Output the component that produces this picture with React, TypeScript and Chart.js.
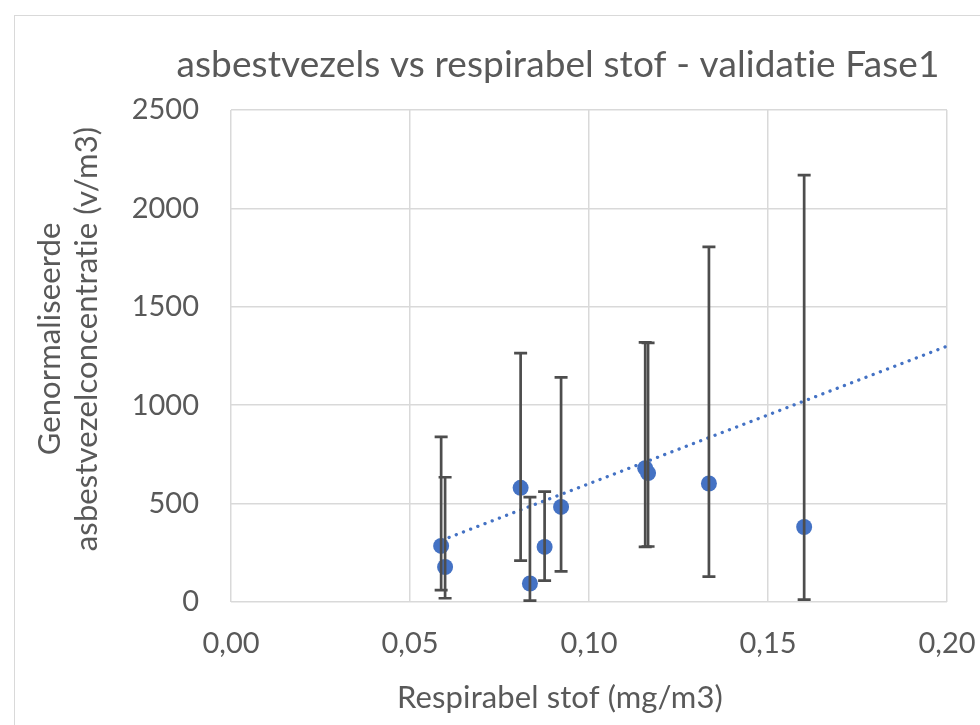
import React, { useEffect, useRef } from "react";
import { Chart, registerables } from "chart.js";

Chart.register(...registerables);

const xValues = [0.0587, 0.0598, 0.0809, 0.0835, 0.0876, 0.0922, 0.1157, 0.1165, 0.1335, 0.1601];
const yValues = [285, 178, 580, 94, 280, 483, 680, 655, 602, 381];
const errLow = [60, 19, 210, 7, 109, 156, 280, 282, 129, 12];
const errHigh = [839, 634, 1265, 533, 561, 1141, 1319, 1317, 1804, 2169];
const trendX = [0.0589, 0.2];
const trendY = [314, 1300];
const xTicks = [0, 0.05, 0.1, 0.15, 0.2];
const yTicks = [0, 500, 1000, 1500, 2000, 2500];

const TITLE = "asbestvezels vs respirabel stof - validatie Fase1";
const X_TITLE = "Respirabel stof (mg/m3)";
const Y_TITLE = ["Genormaliseerde", "asbestvezelconcentratie (v/m3)"];

const FONT = "Lato, 'Noto Sans', sans-serif";
const TEXT = "#595959";

export default function App() {
  const ref = useRef<HTMLCanvasElement | null>(null);

  useEffect(() => {
    const canvas = ref.current!;
    const extras = {
      id: "extras",
      afterDatasetsDraw(chart: any) {
        const { ctx, scales } = chart;
        ctx.save();
        ctx.strokeStyle = "#4d4d4d";
        ctx.lineWidth = 2.7;
        for (let i = 0; i < xValues.length; i++) {
          const px = scales.x.getPixelForValue(xValues[i]);
          const lo = scales.y.getPixelForValue(errLow[i]);
          const hi = scales.y.getPixelForValue(errHigh[i]);
          ctx.beginPath();
          ctx.moveTo(px, lo);
          ctx.lineTo(px, hi);
          ctx.moveTo(px - 6.5, lo);
          ctx.lineTo(px + 6.5, lo);
          ctx.moveTo(px - 6.5, hi);
          ctx.lineTo(px + 6.5, hi);
          ctx.stroke();
        }
        ctx.restore();
      },
      afterDraw(chart: any) {
        const { ctx } = chart;
        ctx.save();
        ctx.fillStyle = TEXT;
        ctx.textAlign = "center";
        ctx.textBaseline = "alphabetic";
        try {
          (ctx as any).letterSpacing = "0.1px";
        } catch (e) {}
        ctx.font = `37px ${FONT}`;
        ctx.fillText(TITLE, 558, 77);
        ctx.font = `31px ${FONT}`;
        ctx.fillText(X_TITLE, 560, 708);
        ctx.save();
        ctx.translate(60, 339);
        ctx.rotate(-Math.PI / 2);
        ctx.fillText(Y_TITLE[0], 0, 0);
        ctx.restore();
        ctx.save();
        ctx.translate(97, 339);
        ctx.rotate(-Math.PI / 2);
        ctx.fillText(Y_TITLE[1], 0, 0);
        ctx.restore();
        ctx.restore();
      },
    };

    const chart = new Chart(canvas, {
      type: "scatter",
      data: {
        datasets: [
          {
            label: "Trend",
            type: "line",
            data: trendX.map((x, i) => ({ x, y: trendY[i] })),
            borderColor: "#4472C4",
            borderWidth: 3.3,
            borderDash: [0.1, 7.6],
            borderCapStyle: "round",
            pointRadius: 0,
            fill: false,
            order: 2,
          } as any,
          {
            label: "Metingen",
            data: xValues.map((x, i) => ({ x, y: yValues[i] })),
            backgroundColor: "#4472C4",
            borderColor: "#4472C4",
            pointRadius: 8,
            pointBorderWidth: 0,
            order: 1,
          },
        ],
      },
      options: {
        animation: false,
        responsive: false,
        layout: { padding: { left: 0, top: 110, right: 33, bottom: 0 } },
        plugins: { legend: { display: false }, tooltip: { enabled: false } },
        scales: {
          x: {
            type: "linear",
            min: 0,
            max: 0.2,
            afterBuildTicks: (s: any) => {
              s.ticks = xTicks.map((v) => ({ value: v }));
            },
            afterFit: (s: any) => {
              s.height = 123;
              s.paddingRight = 0;
              s.paddingLeft = 0;
            },
            ticks: {
              color: TEXT,
              font: { family: FONT, size: 29 },
              padding: 24,
              maxRotation: 0,
              callback: (v: any) => Number(v).toFixed(2).replace(".", ","),
            },
            grid: { color: "#d9d9d9", lineWidth: 1.5, drawTicks: false },
            border: { display: false },
          },
          y: {
            type: "linear",
            min: 0,
            max: 2500,
            afterBuildTicks: (s: any) => {
              s.ticks = yTicks.map((v) => ({ value: v }));
            },
            afterFit: (s: any) => {
              s.width = 231;
              s.paddingTop = 0;
              s.paddingBottom = 0;
            },
            ticks: {
              color: TEXT,
              font: { family: FONT, size: 29 },
              padding: 32,
              callback: (v: any) => String(v),
            },
            grid: { color: "#d9d9d9", lineWidth: 1.5, drawTicks: false },
            border: { display: false },
          },
        },
      },
      plugins: [extras],
    });
    return () => chart.destroy();
  }, []);

  return (
    <div style={{ position: "fixed", left: 0, top: 0, width: 980, height: 725, overflow: "hidden", background: "#fff" }}>
      <div style={{ position: "absolute", left: 14, top: 15, width: 1000, height: 800, border: "1.5px solid #d9d9d9" }} />
      <canvas ref={ref} width={980} height={725} style={{ position: "absolute", left: 0, top: 0, display: "block" }} />
    </div>
  );
}
